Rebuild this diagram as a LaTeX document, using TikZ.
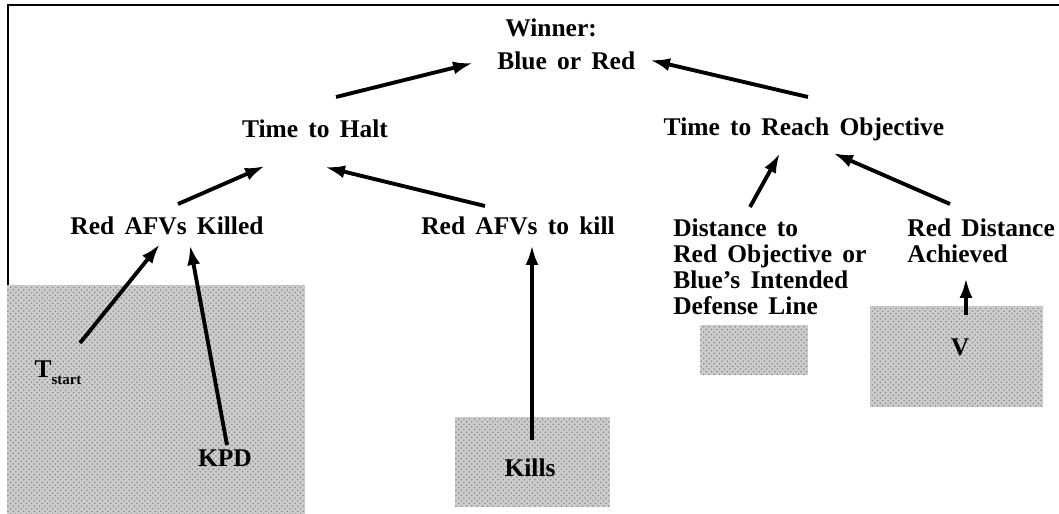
\documentclass[tikz,border=0pt]{standalone}
\usepackage{fontspec}
\setmainfont{Liberation Serif}[WordSpace=1.6]
\usetikzlibrary{calc,arrows.meta,patterns}

\begin{document}
\begin{tikzpicture}[x=0.02cm, y=-0.02cm,
  lbl/.style={font=\fontsize{14.5}{14.8}\selectfont\bfseries, inner sep=0pt},
  lblleft/.style={lbl, align=left, anchor=north west},
  shadebox/.style={fill=black!20, postaction={pattern=crosshatch dots, pattern color=black!45}},
  arr/.style={-{Latex[length=0.4cm,width=0.26cm]}, line width=2.2pt}]

\useasboundingbox (0,0) rectangle (1059,514);

% --- frame ---
\draw[line width=1.6pt] (1059,5) -- (8,5) -- (8,514);

% --- grey panels ---
\fill[shadebox] (7,285) rectangle (305,514);
\fill[shadebox] (455,417) rectangle (610,507);
\fill[shadebox] (700,325) rectangle (808,375);
\fill[shadebox] (870,306) rectangle (1043,407);

% --- nodes ---
\node[lblleft] (winner) at (497,18) {\hspace*{4.5pt}Winner:\\[4pt]Blue or Red};
\node[lbl] (halt) at (315,129) {Time to Halt};
\node[lbl] (reach) at (804,129) {Time to Reach Objective};
\node[lbl] (killed) at (167,226) {Red AFVs Killed};
\node[lbl] (tokill) at (518,226) {Red AFVs to kill};
\node[lblleft] (dist) at (673,218)
  {Distance to\\Red Objective or\\Blue's Intended\\Defense Line};
\node[lblleft] (achieved) at (907,218) {Red Distance\\Achieved};
\node[lbl] (tstart) at (58,373) {T\raisebox{-0.6ex}{\fontsize{8.5}{8.5}\selectfont start}};
\node[lbl] (kpd) at (225,458) {KPD};
\node[lbl] (kills) at (530,468) {Kills};
\node[lbl] (vel) at (960,347) {V};

% --- connectors ---
\draw[arr] ($(halt)+(21,-32)$) -- ($(winner.north west)+(-24,45)$);
\draw[arr] ($(reach)+(4,-32)$) -- ($(winner.north west)+(153,42)$);
\draw[arr] ($(killed)+(11,-22)$) -- ($(halt)+(-50,37)$);
\draw[arr] ($(tokill)+(-33,-20)$) -- ($(halt)+(10,38)$);
\draw[arr] ($(dist.north west)+(77,-11)$) -- ($(reach)+(-24,24)$);
\draw[arr] ($(achieved.north west)+(43,-14)$) -- ($(reach)+(29,24)$);
\draw[arr] ($(tstart)+(22,-30)$) -- ($(killed)+(-7,18)$);
\draw[arr] ($(kpd)+(2,-13)$) -- ($(killed)+(23,19)$);
\draw[arr] ($(kills)+(2,-28)$) -- ($(tokill)+(14,19)$);
\draw[arr] ($(vel)+(6,-32)$) -- ($(achieved.north west)+(59,60)$);

\end{tikzpicture}
\end{document}
